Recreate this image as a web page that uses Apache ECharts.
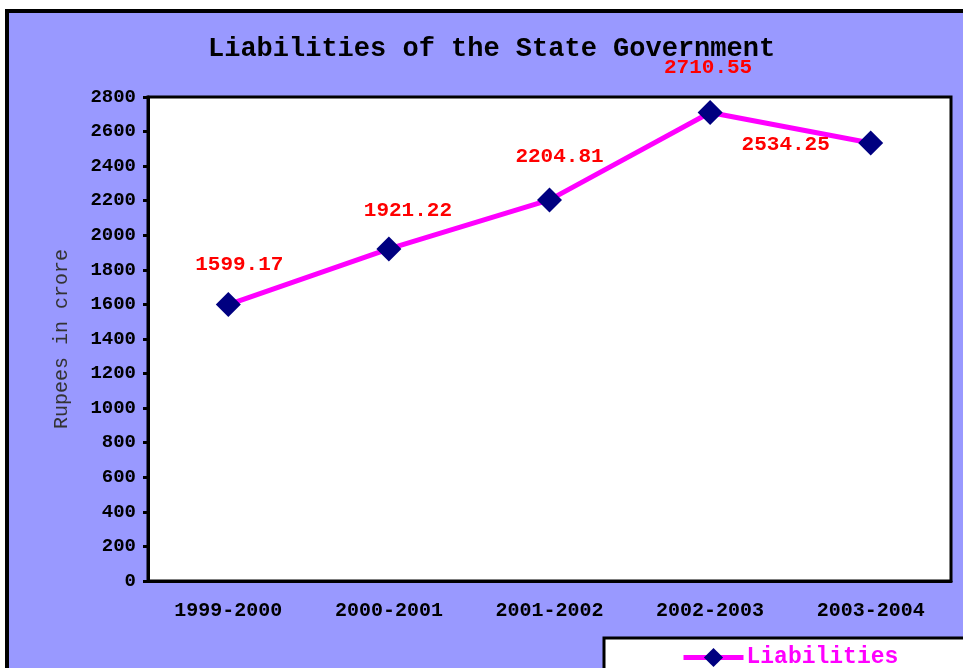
<!DOCTYPE html>
<html>
<head>
<meta charset="utf-8">
<script src="https://cdn.jsdelivr.net/npm/echarts@6/dist/echarts.min.js"></script>
<style>
  html, body { margin: 0; padding: 0; background: #ffffff; }
  #chart { width: 963px; height: 668px; }
</style>
</head>
<body>
<div id="chart"></div>
<script>
const years = ['1999-2000', '2000-2001', '2001-2002', '2002-2003', '2003-2004'];
const liabilities = [1599.17, 1921.22, 2204.81, 2710.55, 2534.25];
// label nudges (px) so the numbers sit where the original put them
const labelOffsets = [[11, -40], [19, -38], [10, -43], [-2, -45], [-85, 2]];

const FONT = '"Liberation Mono", "DejaVu Sans Mono", monospace';

const chart = echarts.init(document.getElementById('chart'));

const option = {
    backgroundColor: '#ffffff',
    animation: false,
    graphic: [
        {
            type: 'rect', z: -10, silent: true,
            shape: { x: 7, y: 11, width: 1000, height: 700 },
            style: { fill: '#9999ff', stroke: '#000000', lineWidth: 4 }
        },
        {
            type: 'rect', z: 50, silent: true,
            shape: { x: 604, y: 638, width: 400, height: 100 },
            style: { fill: '#ffffff', stroke: '#000000', lineWidth: 3 }
        }
    ],
    title: {
        text: 'Liabilities of the State Government',
        left: 203,
        top: 31,
        textStyle: { fontFamily: FONT, fontWeight: 'bold', fontSize: 27, color: '#000000' }
    },
    legend: {
        left: 676,
        top: 641,
        z: 60,
        itemWidth: 60,
        itemHeight: 24,
        itemGap: 0,
        data: ['Liabilities'],
        lineStyle: { color: '#ff00ff', width: 5 },
        textStyle: { fontFamily: FONT, fontWeight: 'bold', fontSize: 23, color: '#ff00ff', padding: [0, 0, 0, -2] }
    },
    grid: {
        left: 148, top: 97, right: 12, bottom: 87,
        show: true,
        backgroundColor: '#ffffff',
        borderColor: '#000000',
        borderWidth: 3
    },
    xAxis: {
        type: 'category',
        data: years,
        boundaryGap: true,
        axisLine: { lineStyle: { color: '#000000', width: 3 } },
        axisTick: { length: 6, lineStyle: { color: '#000000', width: 3 } },
        axisLabel: { margin: 20, fontFamily: FONT, fontWeight: 'bold', fontSize: 20, color: '#000000' }
    },
    yAxis: {
        type: 'value',
        min: 0, max: 2800, interval: 200,
        name: 'Rupees in crore',
        nameLocation: 'middle',
        nameGap: 76,
        nameTextStyle: { fontFamily: FONT, fontSize: 20, color: '#333333' },
        splitLine: { show: false },
        axisLine: { show: true, lineStyle: { color: '#000000', width: 3 } },
        axisTick: { show: true, length: 5, lineStyle: { color: '#000000', width: 3 } },
        axisLabel: {
            margin: 12, fontFamily: FONT, fontWeight: 'bold', fontSize: 19, color: '#000000',
            formatter: v => String(v)
        }
    },
    series: [{
        name: 'Liabilities',
        type: 'line',
        data: liabilities.map((v, i) => ({
            value: v,
            label: { offset: labelOffsets[i] }
        })),
        symbol: 'diamond',
        symbolSize: 25,
        itemStyle: { color: '#000080' },
        lineStyle: { color: '#ff00ff', width: 5 },
        label: {
            show: true,
            position: 'inside',
            formatter: p => p.value.toFixed(2),
            fontFamily: FONT,
            fontWeight: 'bold',
            fontSize: 21,
            color: '#ff0000'
        },
        z: 5
    }]
};

chart.setOption(option);
</script>
</body>
</html>
